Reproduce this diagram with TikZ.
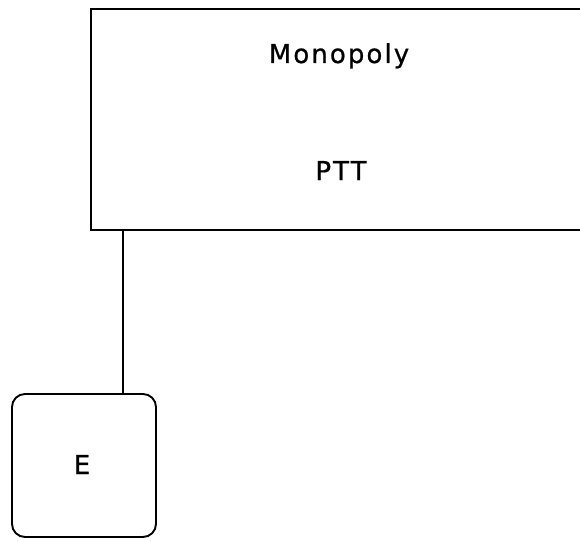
\documentclass[tikz,border=0pt]{standalone}
\usepackage{fontspec}
\setmainfont{DejaVu Sans}[LetterSpace=8, FakeBold=0.8]
\usetikzlibrary{positioning}
\tikzset{
  blk/.style={draw, line width=1.9pt, inner sep=0pt},
  blkr/.style={blk, rounded corners=13pt},
  lbl/.style={font=\fontsize{26}{30}\selectfont, anchor=base, inner sep=0pt},
  ln/.style={line width=1.7pt},
}
\begin{document}
\begin{tikzpicture}[x=1pt,y=-1pt]
    \useasboundingbox (0,0) rectangle (580,540);
    \clip (0,0) rectangle (580,540);
    % network operator
    \node[blk, minimum width=494pt, minimum height=221pt] (ptt) at (338,119.5) {};
    \node[lbl] (mono) at (339,63) {Monopoly};
    \node[lbl] (pttname) at (341,180) {PTT};
    % end user
    \node[blkr, minimum width=144pt, minimum height=143pt] (e) at (84,465.5) {};
    \node[lbl] (elbl) at (82,474) {E};
    \draw[ln] ([xshift=39pt]e.north) -- ([xshift=39pt]e.north |- ptt.south);
\end{tikzpicture}
\end{document}
